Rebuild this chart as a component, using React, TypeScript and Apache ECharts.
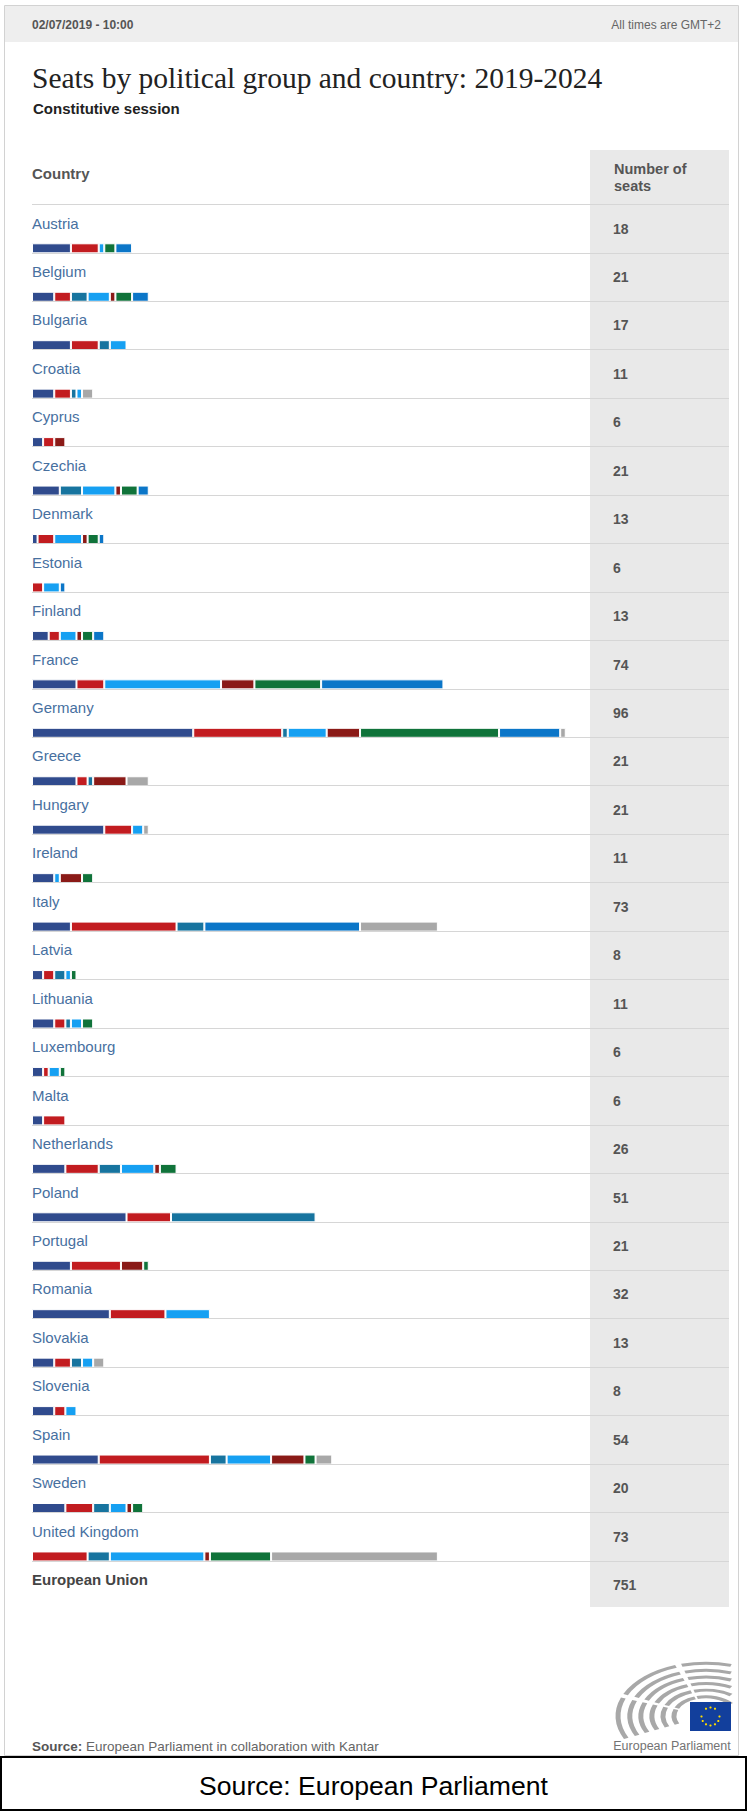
import React, { useEffect, useRef } from "react";
import * as echarts from "echarts";

// ---------- DATA ----------
const countries = [
  "Austria", "Belgium", "Bulgaria", "Croatia", "Cyprus", "Czechia", "Denmark",
  "Estonia", "Finland", "France", "Germany", "Greece", "Hungary", "Ireland",
  "Italy", "Latvia", "Lithuania", "Luxembourg", "Malta", "Netherlands", "Poland",
  "Portugal", "Romania", "Slovakia", "Slovenia", "Spain", "Sweden", "United Kingdom",
];

const groupNames = ["EPP", "S&D", "ECR", "Renew Europe", "GUE/NGL", "Greens/EFA", "ID", "NI"];
const groupColors = ["#304b8d", "#c21c20", "#17749f", "#16a0f2", "#8a1a17", "#10733a", "#0b76c8", "#a8a8a8"];

const eppSeats =    [7, 4, 7, 4, 2, 5, 1, 0, 3, 8, 29, 8, 13, 4, 7, 2, 4, 2, 2, 6, 17, 7, 14, 4, 4, 12, 6, 0];
const sdSeats =     [5, 3, 5, 3, 2, 0, 3, 2, 2, 5, 16, 2, 5, 0, 19, 2, 2, 1, 4, 6, 8, 9, 10, 3, 2, 20, 5, 10];
const ecrSeats =    [0, 3, 2, 1, 0, 4, 0, 0, 0, 0, 1, 1, 0, 0, 5, 2, 1, 0, 0, 4, 26, 0, 0, 2, 0, 3, 3, 4];
const reSeats =     [1, 4, 3, 1, 0, 6, 5, 3, 3, 21, 7, 0, 2, 1, 0, 1, 2, 2, 0, 6, 0, 0, 8, 2, 2, 8, 3, 17];
const gueSeats =    [0, 1, 0, 0, 2, 1, 1, 0, 1, 6, 6, 6, 0, 4, 0, 0, 0, 0, 0, 1, 0, 4, 0, 0, 0, 6, 1, 1];
const greensSeats = [2, 3, 0, 0, 0, 3, 2, 0, 2, 12, 25, 0, 0, 2, 0, 1, 2, 1, 0, 3, 0, 1, 0, 0, 0, 2, 2, 11];
const idSeats =     [3, 3, 0, 0, 0, 2, 1, 1, 2, 22, 11, 0, 0, 0, 28, 0, 0, 0, 0, 0, 0, 0, 0, 0, 0, 0, 0, 0];
const niSeats =     [0, 0, 0, 2, 0, 0, 0, 0, 0, 0, 1, 4, 1, 0, 14, 0, 0, 0, 0, 0, 0, 0, 0, 2, 0, 3, 0, 30];

const totalSeats = [18, 21, 17, 11, 6, 21, 13, 6, 13, 74, 96, 21, 21, 11, 73, 8, 11, 6, 6, 26, 51, 21, 32, 13, 8, 54, 20, 73];
const euLabel = "European Union";
const euTotal = 751;

const groupSeats = [eppSeats, sdSeats, ecrSeats, reSeats, gueSeats, greensSeats, idSeats, niSeats];

// ---------- LAYOUT ----------
const W = 747;
const H = 1811;
const ROW_H = 48.45;
const ROWS_TOP = 204.3;
const N = countries.length;
const SANS = '"Liberation Sans", Arial, Helvetica, sans-serif';
const SERIF = '"Liberation Serif", "Times New Roman", serif';

function buildLogo(): any[] {
  const cx = 706;
  const cy = 1716;
  const radii = [32, 43, 54, 65, 76, 88];
  const children: any[] = [];
  radii.forEach((r) => {
    const endDeg = Math.min(325, 360 - (Math.acos(Math.min(1, 25 / r)) * 180) / Math.PI);
    const segs = [
      [155, 200],
      [204, 250],
      [254, endDeg],
    ];
    segs.forEach(([a, b]) => {
      if (b <= a) return;
      children.push({
        type: "arc",
        shape: { cx: 0, cy: 0, r, startAngle: (a * Math.PI) / 180, endAngle: (b * Math.PI) / 180, clockwise: true },
        style: { stroke: "#a8a8a8", lineWidth: 5, fill: null },
      });
    });
  });
  const stars: any[] = [];
  const fx = 710.5;
  const fy = 1716.5;
  for (let k = 0; k < 12; k++) {
    const t = (k / 12) * Math.PI * 2;
    stars.push({
      type: "circle",
      shape: { cx: fx + Math.cos(t) * 9, cy: fy + Math.sin(t) * 9, r: 1.1 },
      style: { fill: "#ffdd00" },
    });
  }
  return [
    { type: "group", x: cx, y: cy, scaleY: 0.6, children },
    { type: "rect", shape: { x: 690, y: 1702, width: 41, height: 29 }, style: { fill: "#123f9c" } },
    ...stars,
    {
      type: "text",
      x: 672,
      y: 1746,
      style: {
        text: "European Parliament",
        font: `12.5px ${SANS}`,
        fill: "#737373",
        textAlign: "center",
        textVerticalAlign: "middle",
      },
    },
  ];
}

export default function App() {
  const ref = useRef<HTMLDivElement>(null);

  useEffect(() => {
    if (!ref.current) return;
    const chart = echarts.init(ref.current, undefined, { renderer: "svg", width: W, height: H });

    const option: any = {
      animation: false,
      backgroundColor: "#ffffff",
      grid: [
        { left: 32, top: ROWS_TOP + 44 - ROW_H / 2, width: 556, height: ROW_H * N },
        { left: 32, top: ROWS_TOP, width: 697, height: ROW_H * N },
      ],
      xAxis: [
        { type: "value", gridIndex: 0, min: 0, max: 100, show: false },
        { type: "value", gridIndex: 1, min: 0, max: 1, show: false },
      ],
      yAxis: [
        { type: "category", gridIndex: 0, data: countries, inverse: true, show: false },
        {
          type: "category",
          gridIndex: 1,
          data: countries,
          inverse: true,
          z: 10,
          axisLine: { show: false },
          axisTick: { show: false },
          splitLine: { show: true, interval: 0, lineStyle: { color: "#d6d6d6", width: 1 } },
          axisLabel: {
            inside: true,
            interval: 0,
            margin: 0,
            align: "left",
            verticalAlign: "bottom",
            lineHeight: 11,
            fontSize: 15,
            fontFamily: SANS,
            color: "#47709f",
          },
        },
        {
          type: "category",
          gridIndex: 1,
          data: countries,
          inverse: true,
          position: "right",
          z: 10,
          axisLine: { show: false },
          axisTick: { show: false },
          splitLine: { show: false },
          axisLabel: {
            inside: true,
            interval: 0,
            margin: 116,
            align: "left",
            verticalAlign: "middle",
            fontSize: 14,
            fontWeight: "bold",
            fontFamily: SANS,
            color: "#555555",
            formatter: (_v: string, i: number) => String(totalSeats[i]),
          },
        },
      ],
      series: groupNames.map((name, gi) => ({
        type: "bar",
        name,
        stack: "seats",
        xAxisIndex: 0,
        yAxisIndex: 0,
        barWidth: 10,
        itemStyle: { color: groupColors[gi], borderColor: "#ffffff", borderWidth: 1 },
        data: groupSeats[gi].map((v) => (v > 0 ? v : null)),
      })),
      graphic: [
        // outer frame
        { type: "rect", z: -2, shape: { x: 4.5, y: 5.5, width: 734, height: 1750 }, style: { fill: "#ffffff", stroke: "#d2d2d2", lineWidth: 1 } },
        // header band
        { type: "rect", z: -1, shape: { x: 5, y: 6, width: 733, height: 36 }, style: { fill: "#eeeeee" } },
        {
          type: "text", x: 32, y: 25,
          style: { text: "02/07/2019 - 10:00", font: `bold 12px ${SANS}`, fill: "#555555", textAlign: "left", textVerticalAlign: "middle" },
        },
        {
          type: "text", x: 721, y: 25,
          style: { text: "All times are GMT+2", font: `12px ${SANS}`, fill: "#666666", textAlign: "right", textVerticalAlign: "middle" },
        },
        // title
        {
          type: "text", x: 32, y: 78,
          style: { text: "Seats by political group and country: 2019-2024", font: `29.5px ${SERIF}`, fill: "#222222", textAlign: "left", textVerticalAlign: "middle" },
        },
        {
          type: "text", x: 33, y: 108,
          style: { text: "Constitutive session", font: `bold 15px ${SANS}`, fill: "#222222", textAlign: "left", textVerticalAlign: "middle" },
        },
        // grey seats column
        { type: "rect", z: -1, shape: { x: 590, y: 150, width: 139, height: 1457 }, style: { fill: "#e9e9e9" } },
        {
          type: "text", x: 32, y: 173,
          style: { text: "Country", font: `bold 15px ${SANS}`, fill: "#555555", textAlign: "left", textVerticalAlign: "middle" },
        },
        {
          type: "text", x: 614, y: 169,
          style: { text: "Number of", font: `bold 14.5px ${SANS}`, fill: "#555555", textAlign: "left", textVerticalAlign: "middle" },
        },
        {
          type: "text", x: 614, y: 186,
          style: { text: "seats", font: `bold 14.5px ${SANS}`, fill: "#555555", textAlign: "left", textVerticalAlign: "middle" },
        },
        // EU total row
        {
          type: "text", x: 32, y: ROWS_TOP + ROW_H * N + 19,
          style: { text: euLabel, font: `bold 15px ${SANS}`, fill: "#444444", textAlign: "left", textVerticalAlign: "middle" },
        },
        {
          type: "text", x: 613, y: ROWS_TOP + ROW_H * N + 24,
          style: { text: String(euTotal), font: `bold 14px ${SANS}`, fill: "#555555", textAlign: "left", textVerticalAlign: "middle" },
        },
        // source line
        {
          type: "text", x: 32, y: 1746,
          style: {
            text: "{b|Source:} European Parliament in collaboration with Kantar",
            font: `13.5px ${SANS}`,
            fill: "#666666",
            textAlign: "left",
            textVerticalAlign: "middle",
            rich: { b: { fontWeight: "bold", fontSize: 13.5, fontFamily: SANS, fill: "#555555" } },
          },
        },
        ...buildLogo(),
        // bottom caption box
        { type: "rect", shape: { x: 1, y: 1757, width: 745, height: 53 }, style: { fill: "#ffffff", stroke: "#000000", lineWidth: 2 } },
        {
          type: "text", x: 373.5, y: 1786,
          style: { text: "Source: European Parliament", font: `26.6px ${SANS}`, fill: "#000000", textAlign: "center", textVerticalAlign: "middle" },
        },
      ],
    };

    chart.setOption(option);
    return () => chart.dispose();
  }, []);

  return (
    <div
      ref={ref}
      style={{ position: "absolute", left: 0, top: 0, width: W, height: H, background: "#ffffff" }}
    />
  );
}
